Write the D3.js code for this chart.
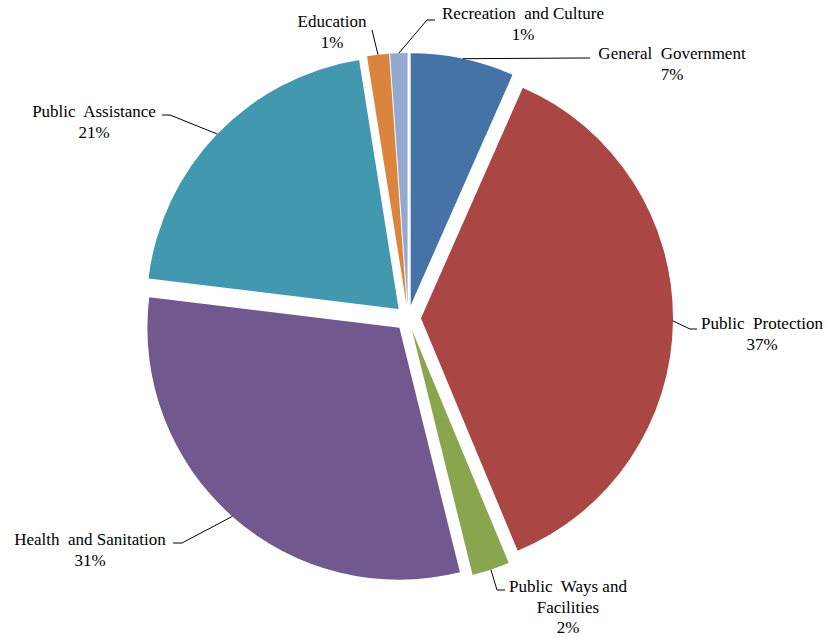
<!DOCTYPE html>
<html>
<head>
<meta charset="utf-8">
<script src="https://cdn.jsdelivr.net/npm/d3@7"></script>
<style>
  body { margin: 0; background: #fff; }
  svg { display: block; }
  .lbl { font-family: "Liberation Serif", "DejaVu Serif", serif; font-size: 17px; }
</style>
</head>
<body>
<script>
// data, clockwise from 12 o'clock
const categories = ["General Government", "Public Protection", "Public Ways and Facilities",
  "Health and Sanitation", "Public Assistance", "Education", "Recreation and Culture"]
const shares = [6.6, 37.0, 2.4, 30.7, 20.5, 1.4, 1.1]
const colors = ["#4572A7", "#AA4643", "#89A54E", "#71588F", "#4198AF", "#DB843D", "#93A9CF"]

// label text lines (category name wrapped like the original)
const labelLines = [
  ["General  Government"], ["Public  Protection"], ["Public  Ways and", "Facilities"],
  ["Health  and Sanitation"], ["Public  Assistance"], ["Education"], ["Recreation  and Culture"]
]

// label placement: text centre x, first baseline y, leader elbow and end
const labelLayout = [
  { x: 672, y: 59, elbow: [583, 58], end: [590, 58] },
  { x: 762, y: 329, elbow: [690, 329], end: [697, 329] },
  { x: 568, y: 592, elbow: [497, 590], end: [505, 590] },
  { x: 90, y: 545, elbow: [182, 543], end: [173, 543] },
  { x: 94, y: 117, elbow: [170, 115], end: [162, 115] },
  { x: 332, y: 27, elbow: [372, 30], end: [372, 30] },
  { x: 523, y: 19, elbow: [427, 20], end: [435, 20] }
]

const dimensions = { width: 827, height: 638, cx: 408, cy: 318, radius: 252, explode: 13 }

const svg = d3.select("body").append("svg")
  .attr("width", dimensions.width)
  .attr("height", dimensions.height)

const data = categories.map((c, i) => ({ name: c, value: shares[i], color: colors[i], lines: labelLines[i], layout: labelLayout[i] }))

const pie = d3.pie().sort(null).value(d => d.value)
const arcs = pie(data)
const total = d3.sum(shares)
const pct = d => d3.format(".0%")(d.value / total)

const arc = d3.arc().innerRadius(0).outerRadius(dimensions.radius)

const bounds = svg.append("g")
  .attr("transform", `translate(${dimensions.cx},${dimensions.cy})`)

const mid = d => (d.startAngle + d.endAngle) / 2

// slices, each pushed out along its mid angle
bounds.selectAll("path.slice")
  .data(arcs)
  .join("path")
    .attr("class", "slice")
    .attr("d", arc)
    .attr("fill", d => d.data.color)
    .attr("transform", d => {
      const a = mid(d)
      return `translate(${dimensions.explode * Math.sin(a)},${-dimensions.explode * Math.cos(a)})`
    })

// leader lines
const leaders = svg.append("g")
arcs.forEach(d => {
  const a = mid(d)
  const r = dimensions.radius + dimensions.explode
  const start = [dimensions.cx + r * Math.sin(a), dimensions.cy - r * Math.cos(a)]
  const L = d.data.layout
  leaders.append("polyline")
    .attr("points", [start, L.elbow, L.end].map(p => p.join(",")).join(" "))
    .attr("fill", "none")
    .attr("stroke", "#000")
    .attr("stroke-width", 1)
})

// labels
const labels = svg.append("g")
  .attr("class", "lbl")
  .attr("fill", "#000")

arcs.forEach(d => {
  const L = d.data.layout
  const lines = d.data.lines.concat([pct(d.data)])
  const t = labels.append("text")
    .attr("text-anchor", "middle")
    .attr("font-family", "Liberation Serif")
    .style("white-space", "pre")
  lines.forEach((line, i) => {
    t.append("tspan")
      .attr("x", L.x)
      .attr("y", L.y + i * 20.7)
      .text(line)
  })
})
</script>
</body>
</html>
